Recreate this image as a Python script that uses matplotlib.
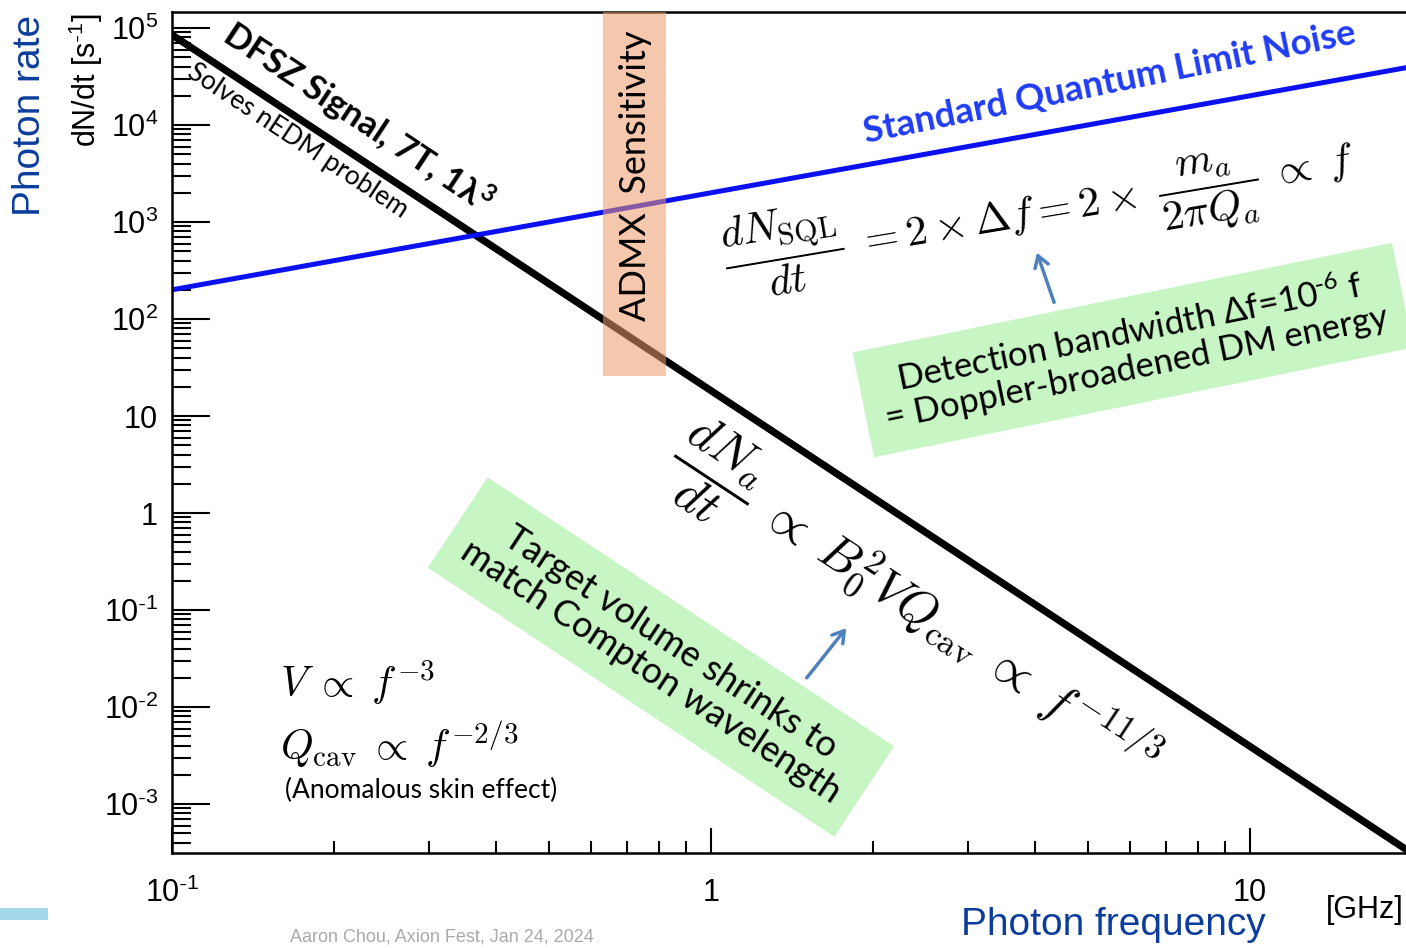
import matplotlib.pyplot as plt
from matplotlib.ticker import LogLocator, FixedLocator, NullFormatter

plt.rcParams['mathtext.fontset'] = 'cm'
plt.rcParams['font.family'] = ['Liberation Sans', 'DejaVu Sans']

# data
freq_ghz = [0.1, 20.0]
dfsz_rate = [8.5e4, 3.1e-4]          # ~ f^(-11/3)
sql_rate = [200.0, 4.0e4]            # ~ f
admx_band = [0.63, 0.825]            # GHz
admx_floor = 26.0

xlim = (0.1, 20.0)
ylim = (10 ** -3.505, 10 ** 5.165)

ytick_vals = [1e-3, 1e-2, 1e-1, 1, 10, 1e2, 1e3, 1e4, 1e5]
ytick_labels = [r'$\mathregular{10^{\text{-}3}}$', r'$\mathregular{10^{\text{-}2}}$',
                r'$\mathregular{10^{\text{-}1}}$', '1', '10', r'$\mathregular{10^{2}}$',
                r'$\mathregular{10^{3}}$', r'$\mathregular{10^{4}}$', r'$\mathregular{10^{5}}$']
xtick_vals = [0.1, 1, 10]
xtick_labels = [r'$\mathregular{10^{\text{-}1}}$', '1', '10']

W, H = 1406, 948


def px(x, y):
    # reference pixel -> figure fraction
    return x / W, 1 - y / H


fig = plt.figure(figsize=(W / 100, H / 100), dpi=100)
ax = fig.add_axes([172 / W, 1 - 853 / H, (1412 - 172) / W, (853 - 12) / H])

ax.plot(freq_ghz, dfsz_rate, color='black', lw=5.2, solid_capstyle='butt', zorder=2)
ax.plot(freq_ghz, sql_rate, color='#0a10f0', lw=3.6, solid_capstyle='butt', zorder=2)
ax.fill_between(admx_band, admx_floor, ylim[1], color='#ee9a6a', alpha=0.55, lw=0, zorder=3)

ax.set_xscale('log')
ax.set_yscale('log')
ax.set_xlim(*xlim)
ax.set_ylim(*ylim)

ax.yaxis.set_major_locator(FixedLocator(ytick_vals))
ax.set_yticklabels(ytick_labels)
ax.yaxis.set_minor_locator(LogLocator(base=10, subs=range(2, 10), numticks=30))
ax.yaxis.set_minor_formatter(NullFormatter())
ax.xaxis.set_major_locator(FixedLocator(xtick_vals))
ax.set_xticklabels(xtick_labels)
ax.xaxis.set_minor_locator(LogLocator(base=10, subs=range(2, 10), numticks=30))
ax.xaxis.set_minor_formatter(NullFormatter())

ax.tick_params(axis='y', which='major', direction='in', length=27, width=1.5, labelsize=22, pad=10)
ax.tick_params(axis='y', which='minor', direction='in', length=13.5, width=1.5)
ax.tick_params(axis='x', which='major', direction='in', length=18, width=1.5, labelsize=22, pad=18)
ax.tick_params(axis='x', which='minor', direction='in', length=9, width=1.5)
ax.tick_params(top=False, right=False)
for s in ax.spines.values():
    s.set_linewidth(1.8)

# axis titles
fig.text(*px(30, 115), 'Photon rate', rotation=90, color='#0b3d9c', fontsize=28,
         ha='center', va='center')
fig.text(*px(86, 80), r'dN/dt [s$\mathregular{^{\text{-}1}}$]', rotation=90, fontsize=22,
         ha='center', va='center')
fig.text(*px(1113, 925), 'Photon frequency', color='#0b3d9c', fontsize=28,
         ha='center', va='center')
fig.text(*px(1326, 910), '[GHz]', fontsize=22, ha='left', va='center')
fig.text(*px(290, 946), 'Aaron Chou, Axion Fest, Jan 24, 2024', color='#aaaaaa',
         fontsize=13, ha='left', va='bottom')
fig.patches.append(plt.Rectangle(px(0, 920), 48 / W, 12 / H, transform=fig.transFigure,
                                 color='#a3d8ea', lw=0))

# line labels
sans = ['Lato', 'DejaVu Sans']
fig.text(*px(358, 118), r'DFSZ Signal, 7T, 1λ$\mathregular{^3}$', rotation=-33.5,
         rotation_mode='anchor', ha='center', va='center', fontsize=25,
         fontweight='bold', family=sans)
fig.text(*px(298, 141), 'Solves nEDM problem', rotation=-33.5, rotation_mode='anchor',
         ha='center', va='center', fontsize=19, family=sans)
fig.text(*px(1110, 83), 'Standard Quantum Limit Noise', rotation=11.5, rotation_mode='anchor',
         ha='center', va='center', fontsize=26.3, fontweight='bold', color='#1f3cf5', family=sans)
fig.text(*px(636, 176), 'ADMX  Sensitivity', rotation=90, rotation_mode='anchor',
         ha='center', va='center', fontsize=26, family=sans, zorder=5)

# equations
fig.text(*px(1040, 213),
         r'$\dfrac{dN_{\mathrm{SQL}}}{dt}\; = 2\times\Delta f = 2\times\;\dfrac{m_a}{2\pi Q_a}\;\propto\; f$',
         rotation=9.5, rotation_mode='anchor', ha='center', va='center', fontsize=31)
fig.text(*px(915, 607),
         r'$\dfrac{dN_a}{dt}\;\propto\; B_0^2 V Q_{\mathrm{cav}}\;\propto\; f^{-11/3}$',
         rotation=-33.5, rotation_mode='anchor', ha='center', va='center', fontsize=36)
fig.text(*px(280, 683), r'$V \;\propto\; f^{-3}$', ha='left', va='center', fontsize=30)
fig.text(*px(280, 745), r'$Q_{\mathrm{cav}} \;\propto\; f^{-2/3}$', ha='left', va='center',
         fontsize=30)
fig.text(*px(285, 790), '(Anomalous skin effect)', ha='left', va='center', fontsize=19,
         family=sans)

# green notes
box = dict(boxstyle='square,pad=0.55', facecolor='#c8f5c4', edgecolor='none')
fig.text(*px(1133, 350),
         'Detection bandwidth Δf=10$\\mathregular{^{\\text{-}6}}$ f\n= Doppler-broadened DM energy',
         rotation=11.5, rotation_mode='anchor', ha='center', va='center', fontsize=25,
         family=sans, bbox=box, linespacing=1.1)
fig.text(*px(661, 657), 'Target volume shrinks to\nmatch Compton wavelength',
         rotation=-33.5, rotation_mode='anchor', ha='center', va='center', fontsize=26,
         family=sans, bbox=box, linespacing=1.1)

arrow = dict(arrowstyle='->,head_length=0.8,head_width=0.5', color='#4f81bd', lw=2.5)
ax.annotate('', xy=px(1036, 250), xytext=px(1055, 305), xycoords='figure fraction',
            textcoords='figure fraction', arrowprops=arrow)
ax.annotate('', xy=px(848, 626), xytext=px(805, 680), xycoords='figure fraction',
            textcoords='figure fraction', arrowprops=arrow)

fig.savefig('out.png', dpi=100)
